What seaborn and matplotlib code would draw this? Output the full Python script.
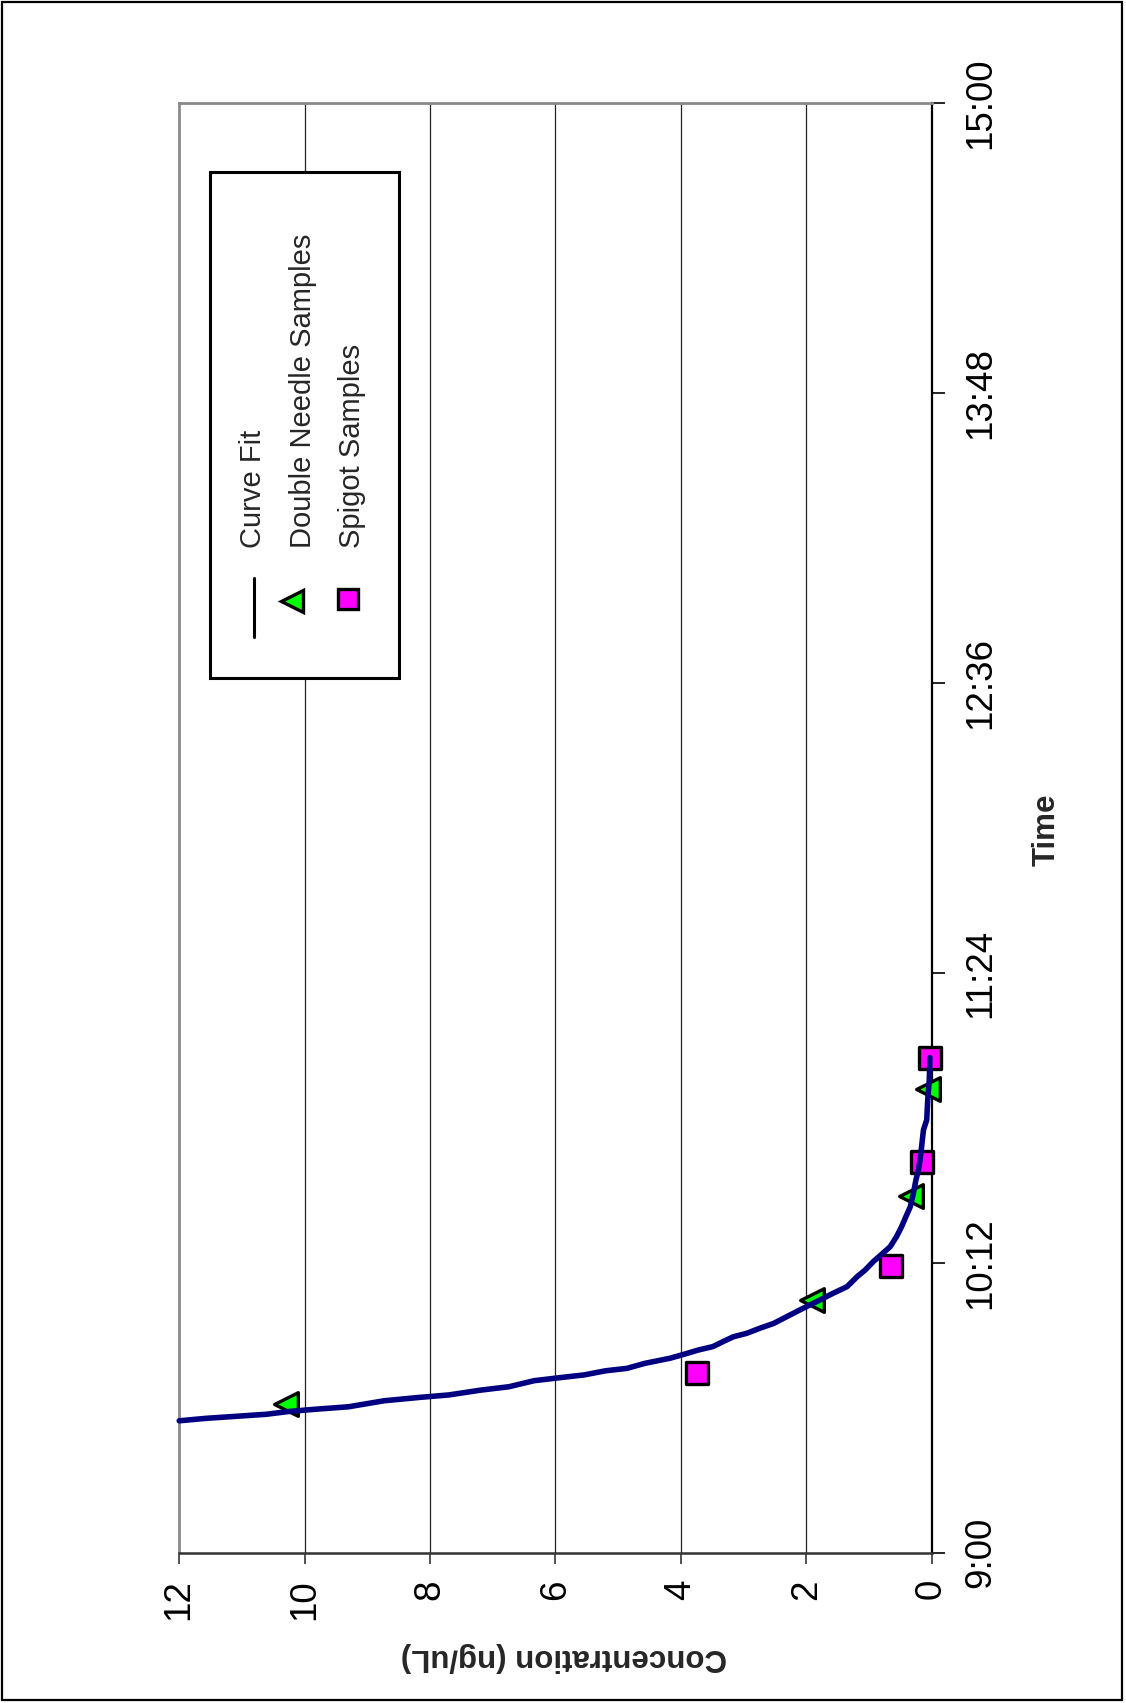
import matplotlib
matplotlib.use("Agg")
import matplotlib.pyplot as plt
import seaborn as sns
import numpy as np
from matplotlib.lines import Line2D
from matplotlib.patches import Rectangle

# ---------------- data (time in hours of day, concentration in ng/uL) -------------
time_tick_labels = ["9:00", "10:12", "11:24", "12:36", "13:48", "15:00"]
conc_ticks = [0, 2, 4, 6, 8, 10, 12]

curve_time = [9.546, 9.556, 9.566, 9.573, 9.584, 9.593, 9.604, 9.629, 9.643, 9.653,
              9.673, 9.687, 9.712, 9.726, 9.736, 9.753, 9.763, 9.784, 9.805, 9.822,
              9.839, 9.853, 9.877, 9.894, 9.908, 9.929, 9.949, 9.977, 10.005, 10.032,
              10.053, 10.074, 10.101, 10.142, 10.170, 10.205, 10.239, 10.267, 10.308,
              10.349, 10.391, 10.432, 10.488, 10.543, 10.584, 10.625, 10.680, 10.750,
              10.791, 10.874, 10.957, 11.049]
curve_conc = [12.00, 11.58, 11.01, 10.61, 10.27, 9.87, 9.30, 8.73, 8.16, 7.70,
              7.19, 6.74, 6.34, 5.88, 5.54, 5.20, 4.86, 4.57, 4.17, 3.94,
              3.72, 3.49, 3.30, 3.16, 2.95, 2.74, 2.52, 2.31, 2.10, 1.89,
              1.73, 1.57, 1.35, 1.19, 1.06, 0.93, 0.78, 0.66, 0.56,
              0.48, 0.41, 0.34, 0.29, 0.25, 0.21, 0.185, 0.16, 0.13,
              0.078, 0.062, 0.037, 0.026]

needle_time = [9.615, 10.047, 10.476, 10.919]
needle_conc = [10.29, 1.90, 0.33, 0.06]

spigot_time = [9.742, 10.187, 10.616, 11.049]
spigot_conc = [3.745, 0.65, 0.16, 0.03]

legend_labels = ["Curve Fit", "Double Needle Samples", "Spigot Samples"]

# ---------------- style -------------
sns.set_theme(style="white")
plt.rcParams["font.family"] = ["Liberation Sans", "DejaVu Sans"]

W, H = 1126, 1703
fig = plt.figure(figsize=(W / 100, H / 100), dpi=100)
fig.patch.set_facecolor("white")


def fx(px):
    return px / W


def fy(py):
    return 1 - py / H


ax = fig.add_axes([fx(179.2), fy(1552.7), fx(931.6) - fx(179.2), fy(103.2) - fy(1552.7)])
ax.set_facecolor("white")

# markers (under line)
sns.scatterplot(x=needle_conc, y=needle_time, marker="<", s=290, color="#00FF00",
                edgecolor="black", linewidths=2.4, ax=ax, zorder=3, legend=False,
                clip_on=False)
sns.scatterplot(x=spigot_conc, y=spigot_time, marker="s", s=270, color="#FF00FF",
                edgecolor="black", linewidths=2.4, ax=ax, zorder=3, legend=False,
                clip_on=False)
sns.lineplot(x=curve_conc, y=curve_time, sort=False, estimator=None,
             color="#000080", linewidth=4.0, ax=ax, zorder=4, clip_on=False)


def parse_hm(s):
    h, m = s.split(":")
    return int(h) + int(m) / 60.0


time_ticks = [parse_hm(s) for s in time_tick_labels]

ax.set_xlim(12, 0)
ax.set_ylim(time_ticks[0], time_ticks[-1])
ax.set_xticks(conc_ticks)
ax.set_xticklabels([str(c) for c in conc_ticks], rotation=90, fontsize=26.5)
ax.yaxis.tick_right()
ax.set_yticks(time_ticks)
ax.set_yticklabels(time_tick_labels, rotation=90, va="center", fontsize=26.5)
ax.set_xlabel("")
ax.set_ylabel("")

ax.grid(False)
for c in conc_ticks[1:-1]:
    ax.axvline(c, color="#222222", lw=0.9, zorder=1)

ax.tick_params(axis="x", direction="out", length=8, width=1.2, color="#333333",
               pad=11, labelcolor="black", bottom=True)
ax.tick_params(axis="y", direction="out", length=9, width=1.2, color="black",
               pad=14, labelcolor="black", right=True, left=False)

for side in ["left", "top"]:
    ax.spines[side].set_color("#8a8a8a")
    ax.spines[side].set_linewidth(2)
ax.spines["right"].set_color("black")
ax.spines["right"].set_linewidth(1.6)
ax.spines["bottom"].set_color("#333333")
ax.spines["bottom"].set_linewidth(1.8)
for s in ax.spines.values():
    s.set_visible(True)

# axis titles
fig.text(fx(564), fy(1657), "Concentration (ng/uL)", rotation=180, ha="center",
         va="center", fontsize=22.5, fontweight="bold")
fig.text(fx(1047), fy(830), "Time", rotation=90, ha="center", va="center",
         fontsize=22.5, fontweight="bold")

# legend (rotated, drawn manually)
fig.add_artist(Rectangle((fx(210), fy(678)), fx(399) - fx(210), fy(172) - fy(678),
                         transform=fig.transFigure, fill=True, facecolor="white",
                         edgecolor="black", lw=2.2, zorder=5))
fig.add_artist(Line2D([fx(254.3), fx(254.3)], [fy(637), fy(578)],
                      transform=fig.transFigure, color="black", lw=2.2, zorder=6))
fig.add_artist(Line2D([fx(292)], [fy(600.7)], transform=fig.transFigure, marker="<",
                      markersize=15.5, markerfacecolor="#00FF00", markeredgecolor="black",
                      markeredgewidth=2.4, linestyle="none", zorder=6))
fig.add_artist(Line2D([fx(347.7)], [fy(599)], transform=fig.transFigure, marker="s",
                      markersize=15, markerfacecolor="#FF00FF", markeredgecolor="black",
                      markeredgewidth=2.4, linestyle="none", zorder=6))
for lab, bx in zip(legend_labels, [261, 311, 360]):
    fig.text(fx(bx), fy(548), lab, rotation=90, rotation_mode="anchor",
             ha="left", va="baseline", fontsize=21, zorder=7)

# outer frame
fig.add_artist(Rectangle((fx(1.5), fy(1700)), fx(1122) - fx(1.5), fy(2) - fy(1700),
                         transform=fig.transFigure, fill=False, edgecolor="black",
                         lw=1.6, zorder=10))

fig.savefig("out.png", dpi=100, facecolor="white")
